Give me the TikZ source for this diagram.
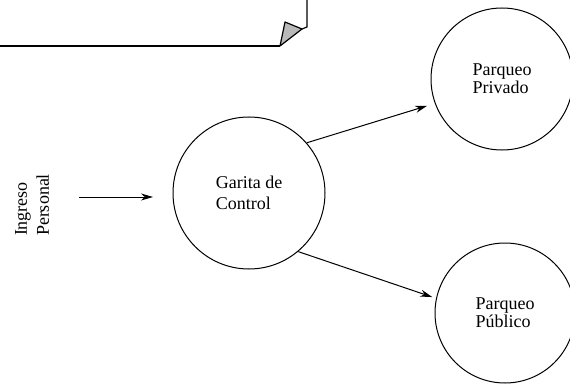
\documentclass[tikz,border=0pt]{standalone}
\usepackage{fontspec}
\setmainfont{Liberation Serif}
\usetikzlibrary{arrows.meta}
\begin{document}
\begin{tikzpicture}[x=1pt,y=-1pt,
  proc/.style={draw, circle, line width=1pt, align=left,
    font=\fontsize{18}{18}\selectfont},
  lbl/.style={align=left, font=\fontsize{18}{22}\selectfont},
  flow/.style={line width=1pt, -{Stealth[length=12pt,width=7pt]}},
  edge/.style={line width=1.2pt}]
\useasboundingbox (0,0) rectangle (570,385);
% folded note (top left)
\draw[edge] (-2,46) -- (280,46);
\draw[edge, fill=gray!55, line join=round] (280,46) -- (285,22) -- (302,29) -- cycle;
\draw[edge] (302,29) -- (307,27) -- (307,-2);
% process circles
\node[proc, minimum size=152pt] (garita) at (249,193) {Garita de\\[3pt]Control};
\node[proc, minimum size=142pt] (privado) at (502,79) {Parqueo\\Privado};
\node[proc, minimum size=140pt] (publico) at (505,313) {Parqueo\\Público};
% external entity label
\node[lbl, rotate=90] (ingreso) at (32,205) {Ingreso\\Personal};
% connectors
\coordinate (a0) at (79,197);
\coordinate (a1) at (153,197);
\draw[flow] (a0) -- (a1);
\draw[flow, shorten >=8pt] (garita.41) -- (privado.200);
\draw[flow, shorten >=4pt] (garita.-50) -- (publico.168);
\end{tikzpicture}
\end{document}
